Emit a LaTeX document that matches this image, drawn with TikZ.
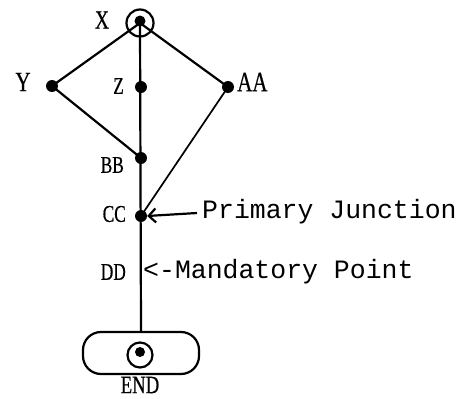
\documentclass[tikz,border=0pt]{standalone}
\usepackage{fontspec}
\setmainfont{Liberation Serif}
\newfontfamily\lblfont[FakeStretch=0.75,FakeBold=0.5]{Liberation Serif}
\newfontfamily\smlblfont[FakeStretch=0.72,FakeBold=0.5]{Liberation Serif}
\newfontfamily\monofont{Liberation Mono}
\usetikzlibrary{arrows.meta}
\tikzset{
  dot/.style={circle,fill=black,inner sep=0pt,minimum size=12pt},
  lbl/.style={font=\smlblfont\fontsize{24}{26}\selectfont,inner sep=0pt},
  biglbl/.style={font=\lblfont\fontsize{28}{30}\selectfont,inner sep=0pt},
  note/.style={font=\monofont\fontsize{26.5}{28}\selectfont,inner sep=0pt,anchor=west},
  edge/.style={line width=2.2pt},
  thinedge/.style={line width=1.7pt}
}
\begin{document}
\begin{tikzpicture}[x=1pt,y=-1pt]
\useasboundingbox (0,0) rectangle (467,399);
% nodes
\node[draw,circle,line width=2.2pt,minimum size=27pt,inner sep=0pt] (X) at (140,23) {};
\node[dot,minimum size=11pt] (Xd) at (140,21) {};
\node[dot] (Y) at (52,86) {};
\node[dot] (Z) at (141,87) {};
\node[dot] (AA) at (228,87) {};
\node[dot] (BB) at (141,158) {};
\node[dot] (CC) at (141,216) {};
\node[draw,line width=2.2pt,rounded corners=18pt,minimum width=116pt,minimum height=42pt,inner sep=0pt] (E) at (141,353) {};
\node[draw,circle,line width=2.2pt,minimum size=25pt,inner sep=0pt] (Ec) at (140,355) {};
\node[dot,minimum size=10pt] (Ed) at (140,352) {};
% labels
\node[biglbl,font=\lblfont\fontsize{26}{28}\selectfont] (lX) at (102,20) {X};
\node[biglbl] (lY) at (23,82) {Y};
\node[lbl,anchor=east] (lZ) at (124,86) {Z};
\node[biglbl,anchor=west] (lAA) at (237,82) {AA};
\node[lbl,anchor=east] (lBB) at (124,165) {BB};
\node[lbl,anchor=east] (lCC) at (126,214) {CC};
\node[lbl,anchor=east] (lDD) at (126,272) {DD};
\node[lbl,font=\lblfont\fontsize{25}{27}\selectfont] (lE) at (140,385) {END};
\node[note] (pj) at (202,212) {Primary Junction};
\node[note] (mp) at (143,272) {<-Mandatory Point};
% connectors
\draw[edge] (X.center) -- (Y.center) -- (BB.center);
\draw[edge] (X.center) -- (AA.center);
\draw[thinedge] (AA.center) -- (CC.center);
\draw[edge] (X.center) -- (E.north);
\coordinate (pjs) at (197,213);
\draw[edge,-{Straight Barb[length=7pt,width=14pt]}] (pjs) -- (CC.east);
\end{tikzpicture}
\end{document}
